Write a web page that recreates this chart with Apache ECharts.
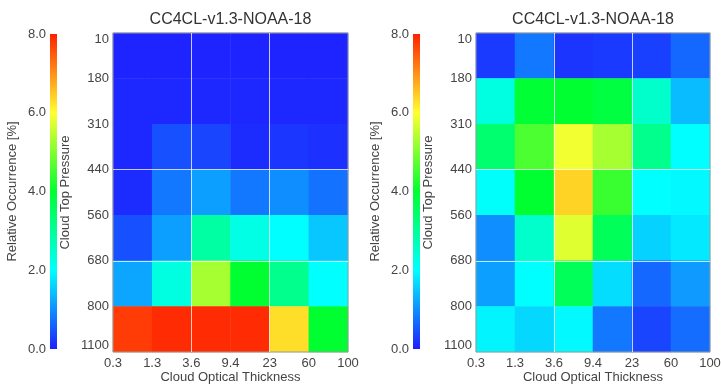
<!DOCTYPE html>
<html>
<head>
<meta charset="utf-8">
<script src="https://cdn.jsdelivr.net/npm/echarts@6.0.0/dist/echarts.min.js"></script>
<style>
  html, body { margin: 0; padding: 0; background: #fff; }
  #chart { width: 721px; height: 385px; }
</style>
</head>
<body>
<div id="chart"></div>
<script>
// bin edges shown on the axes
const tauEdges = ['0.3', '1.3', '3.6', '9.4', '23', '60', '100']
const ctpEdges = ['10', '180', '310', '440', '560', '680', '800', '1100']
const tauBins = ['0.3-1.3', '1.3-3.6', '3.6-9.4', '9.4-23', '23-60', '60-100']
const ctpBins = ['10-180', '180-310', '310-440', '440-560', '560-680', '680-800', '800-1100']
const colorbarTicks = [0, 2, 4, 6, 8]
const titles = ['CC4CL-v1.3-NOAA-18', 'CC4CL-v1.3-NOAA-18']

// relative occurrence [%], rows top (10 hPa) to bottom (1100 hPa)
const leftValues = [
  [0.05, 0.05, 0.05, 0.05, 0.05, 0.05],
  [0.08, 0.08, 0.08, 0.08, 0.08, 0.08],
  [0.08, 0.45, 0.35, 0.12, 0.22, 0.16],
  [0.12, 0.80, 1.15, 0.80, 1.00, 0.75],
  [0.45, 1.15, 2.90, 2.25, 2.00, 1.50],
  [1.20, 2.30, 5.30, 4.00, 3.10, 2.00],
  [7.75, 7.90, 7.90, 7.90, 6.30, 4.00]
]
const rightValues = [
  [0.25, 0.80, 0.20, 0.25, 0.30, 0.65],
  [2.30, 3.95, 4.00, 3.85, 2.50, 1.40],
  [3.40, 4.60, 5.90, 5.30, 3.10, 2.00],
  [2.05, 4.00, 6.40, 4.45, 2.00, 1.95],
  [1.00, 2.50, 5.75, 3.60, 1.60, 1.80],
  [1.15, 2.00, 3.60, 1.70, 0.65, 1.10],
  [1.90, 1.65, 1.95, 0.80, 0.35, 0.70]
]

const rainbow = ['#1e1eff', '#00ffff', '#00ff30', '#ffff30', '#ff2000']
const font = 'Liberation Sans, Arial, Helvetica, sans-serif'
const txt = '#444'

function toCells (rows) {
  const out = []
  rows.forEach((row, r) => {
    row.forEach((v, c) => { out.push([c, r, v]) })
  })
  return out
}

const chart = echarts.init(document.getElementById('chart'))

const plots = [
  { left: 113, width: 235, bar: 50, values: leftValues },
  { left: 476, width: 234, bar: 413, values: rightValues }
]

const grid = []
const xAxis = []
const yAxis = []
const series = []
const visualMap = []
const title = []
const graphic = []

plots.forEach((p, i) => {
  // heatmap grid
  grid.push({ left: p.left, top: 33, width: p.width, height: 319, show: true, z: 5,
    outerBoundsMode: 'none', containLabel: false,
    borderColor: '#9a9a9a', borderWidth: 1, backgroundColor: 'transparent' })
  // colorbar grid (only for tick labels)
  grid.push({ left: p.bar, top: 34, width: 7, height: 315, outerBoundsMode: 'none', containLabel: false })
  const g = i * 2
  const ax = i * 3

  xAxis.push({ gridIndex: g, type: 'category', data: tauBins, show: false, position: 'bottom' })
  xAxis.push({
    gridIndex: g, type: 'value', min: 0, max: 6, interval: 1, position: 'bottom',
    axisLine: { show: false }, axisTick: { show: false }, splitLine: { show: false },
    axisLabel: { margin: 5, color: txt, fontSize: 13, fontFamily: font,
      formatter: v => tauEdges[Math.round(v)] },
    name: 'Cloud Optical Thickness', nameLocation: 'middle', nameGap: 19, nameMoveOverlap: false,
    nameTextStyle: { color: txt, fontSize: 13, fontFamily: font }
  })
  xAxis.push({ gridIndex: g + 1, type: 'value', show: false, min: 0, max: 1 })

  yAxis.push({ gridIndex: g, type: 'category', data: ctpBins, inverse: true, show: false, position: 'left' })
  yAxis.push({
    gridIndex: g, type: 'value', min: 0, max: 7, interval: 1, inverse: true, position: 'left',
    axisLine: { show: false }, axisTick: { show: false }, splitLine: { show: false },
    axisLabel: { margin: 4, color: txt, fontSize: 13, fontFamily: font,
      verticalAlignMinLabel: 'top', verticalAlignMaxLabel: 'bottom',
      formatter: v => ctpEdges[Math.round(v)] },
    name: 'Cloud Top Pressure', nameLocation: 'middle', nameGap: 41, nameMoveOverlap: false,
    nameTextStyle: { color: txt, fontSize: 13, fontFamily: font }
  })
  yAxis.push({
    gridIndex: g + 1, type: 'value', min: 0, max: 8, interval: 2, position: 'left',
    axisLine: { show: false }, axisTick: { show: false }, splitLine: { show: false },
    axisLabel: { margin: 4, color: txt, fontSize: 13, fontFamily: font,
      formatter: v => colorbarTicks.includes(v) ? v.toFixed(1) : '' },
    name: 'Relative Occurrence [%]', nameLocation: 'middle', nameGap: 31, nameMoveOverlap: false,
    nameTextStyle: { color: txt, fontSize: 13, fontFamily: font }
  })

  series.push({
    type: 'heatmap', xAxisIndex: ax, yAxisIndex: ax,
    data: toCells(p.values), silent: true, emphasis: { disabled: true }
  })

  visualMap.push({
    type: 'continuous', seriesIndex: i, min: 0, max: 8, show: false,
    inRange: { color: rainbow }
  })

  // colour bar drawn as a plain gradient strip
  graphic.push({
    type: 'rect', silent: true,
    shape: { x: p.bar, y: 34, width: 7, height: 315 },
    style: {
      fill: new echarts.graphic.LinearGradient(0, 1, 0, 0,
        rainbow.map((c, k) => ({ offset: k / (rainbow.length - 1), color: c })))
    }
  })

  title.push({
    text: titles[i], left: p.left + p.width / 2, textAlign: 'center', top: 12, padding: 0,
    textStyle: { color: '#333', fontSize: 16, fontWeight: 'normal', fontFamily: font }
  })
})

// white separator lines drawn on the value axes
plots.forEach((p, i) => {
  series.push({
    type: 'line', xAxisIndex: i * 3 + 1, yAxisIndex: i * 3 + 1, data: [], silent: true,
    markLine: {
      silent: true, symbol: 'none', label: { show: false }, animation: false,
      lineStyle: { color: 'rgba(255,255,255,0.75)', width: 1, type: 'solid' },
      data: [{ xAxis: 2 }, { xAxis: 4 }, { yAxis: 3 }, { yAxis: 5 }]
    }
  })
})

chart.setOption({
  animation: false,
  backgroundColor: '#fff',
  title,
  grid,
  xAxis,
  yAxis,
  visualMap,
  graphic,
  series
})
</script>
</body>
</html>
